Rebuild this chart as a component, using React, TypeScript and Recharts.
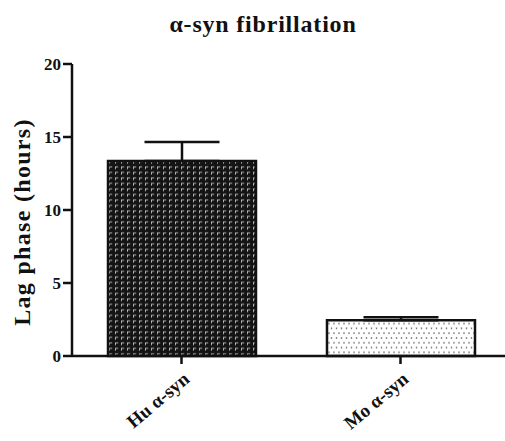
import React from 'react';
import { BarChart, Bar, XAxis, YAxis, ErrorBar, Cell } from 'recharts';

const categories = ['Hu α-syn', 'Mo α-syn'];
const lagPhase = [13.35, 2.45];
const semUpper = [1.3, 0.2];
const yTicks = [0, 5, 10, 15, 20];
const title = 'α-syn fibrillation';
const yLabel = 'Lag phase (hours)';

const data = categories.map((name, i) => ({
  name,
  value: lagPhase[i],
  err: [0, semUpper[i]],
}));

const FONT = '"Liberation Serif", "Times New Roman", serif';
const fills = ['url(#darkPat)', 'url(#dotPat)'];

const XTick = (props: any) => {
  const { x, y, payload } = props;
  return (
    <g transform={`translate(${x + 9},${y + 15})`}>
      <text
        x={0}
        y={0}
        textAnchor="end"
        transform="rotate(-40)"
        fontFamily={FONT}
        fontWeight="bold"
        fontSize={19}
        fill="#111"
      >
        {payload.value}
      </text>
    </g>
  );
};

const YLabel = (props: any) => {
  const { viewBox } = props;
  const cx = 30;
  const cy = viewBox.y + viewBox.height / 2 + 12;
  return (
    <text
      x={cx}
      y={cy}
      transform={`rotate(-90, ${cx}, ${cy})`}
      textAnchor="middle"
      fontFamily={FONT}
      fontWeight="bold"
      fontSize={24}
      letterSpacing={1.3}
      fill="#111"
    >
      {yLabel}
    </text>
  );
};

export default function App() {
  return (
    <div style={{ position: 'absolute', left: 0, top: 0, width: 505, height: 441, overflow: 'hidden', background: '#fff' }}>
      <div
        style={{
          position: 'absolute',
          left: 263,
          top: 10,
          transform: 'translateX(-50%)',
          whiteSpace: 'nowrap',
          fontFamily: FONT,
          fontWeight: 'bold',
          fontSize: 24,
          lineHeight: '28px',
          letterSpacing: 0.8,
          color: '#111',
        }}
      >
        {title}
      </div>
      <BarChart
        width={510}
        height={441}
        data={data}
        margin={{ top: 64, right: 0, bottom: 0, left: 0 }}
        barSize={148}
      >
        <defs>
          <pattern id="darkPat" width="6" height="5.5" patternUnits="userSpaceOnUse">
            <rect width="6" height="5.5" fill="#141414" />
            <path d="M1.5,4.2 V1.8 H4.2" stroke="#bdbdbd" strokeWidth="1" fill="none" />
          </pattern>
          <pattern id="dotPat" width="5" height="9.6" patternUnits="userSpaceOnUse">
            <rect width="5" height="9.6" fill="#fff" />
            <circle cx="1.5" cy="2" r="0.8" fill="#555" />
            <circle cx="4" cy="6.8" r="0.8" fill="#555" />
          </pattern>
        </defs>
        <XAxis
          dataKey="name"
          height={85}
          axisLine={{ stroke: '#111', strokeWidth: 2.5 }}
          tickLine={{ stroke: '#111', strokeWidth: 2.5 }}
          tickSize={8}
          tick={<XTick />}
          interval={0}
        />
        <YAxis
          width={72}
          domain={[0, 20]}
          ticks={yTicks}
          interval={0}
          axisLine={{ stroke: '#111', strokeWidth: 2.5 }}
          tickLine={{ stroke: '#111', strokeWidth: 2.5 }}
          tickSize={9}
          tickMargin={2}
          tick={{ fontFamily: FONT, fontWeight: 'bold', fontSize: 17, fill: '#111' }}
          label={<YLabel />}
        />
        <Bar dataKey="value" stroke="#111" strokeWidth={2.5} isAnimationActive={false}>
          {data.map((d, i) => (
            <Cell key={d.name} fill={fills[i]} />
          ))}
          <ErrorBar dataKey="err" direction="y" width={37.5} stroke="#111" strokeWidth={2.5} isAnimationActive={false} />
        </Bar>
      </BarChart>
    </div>
  );
}
